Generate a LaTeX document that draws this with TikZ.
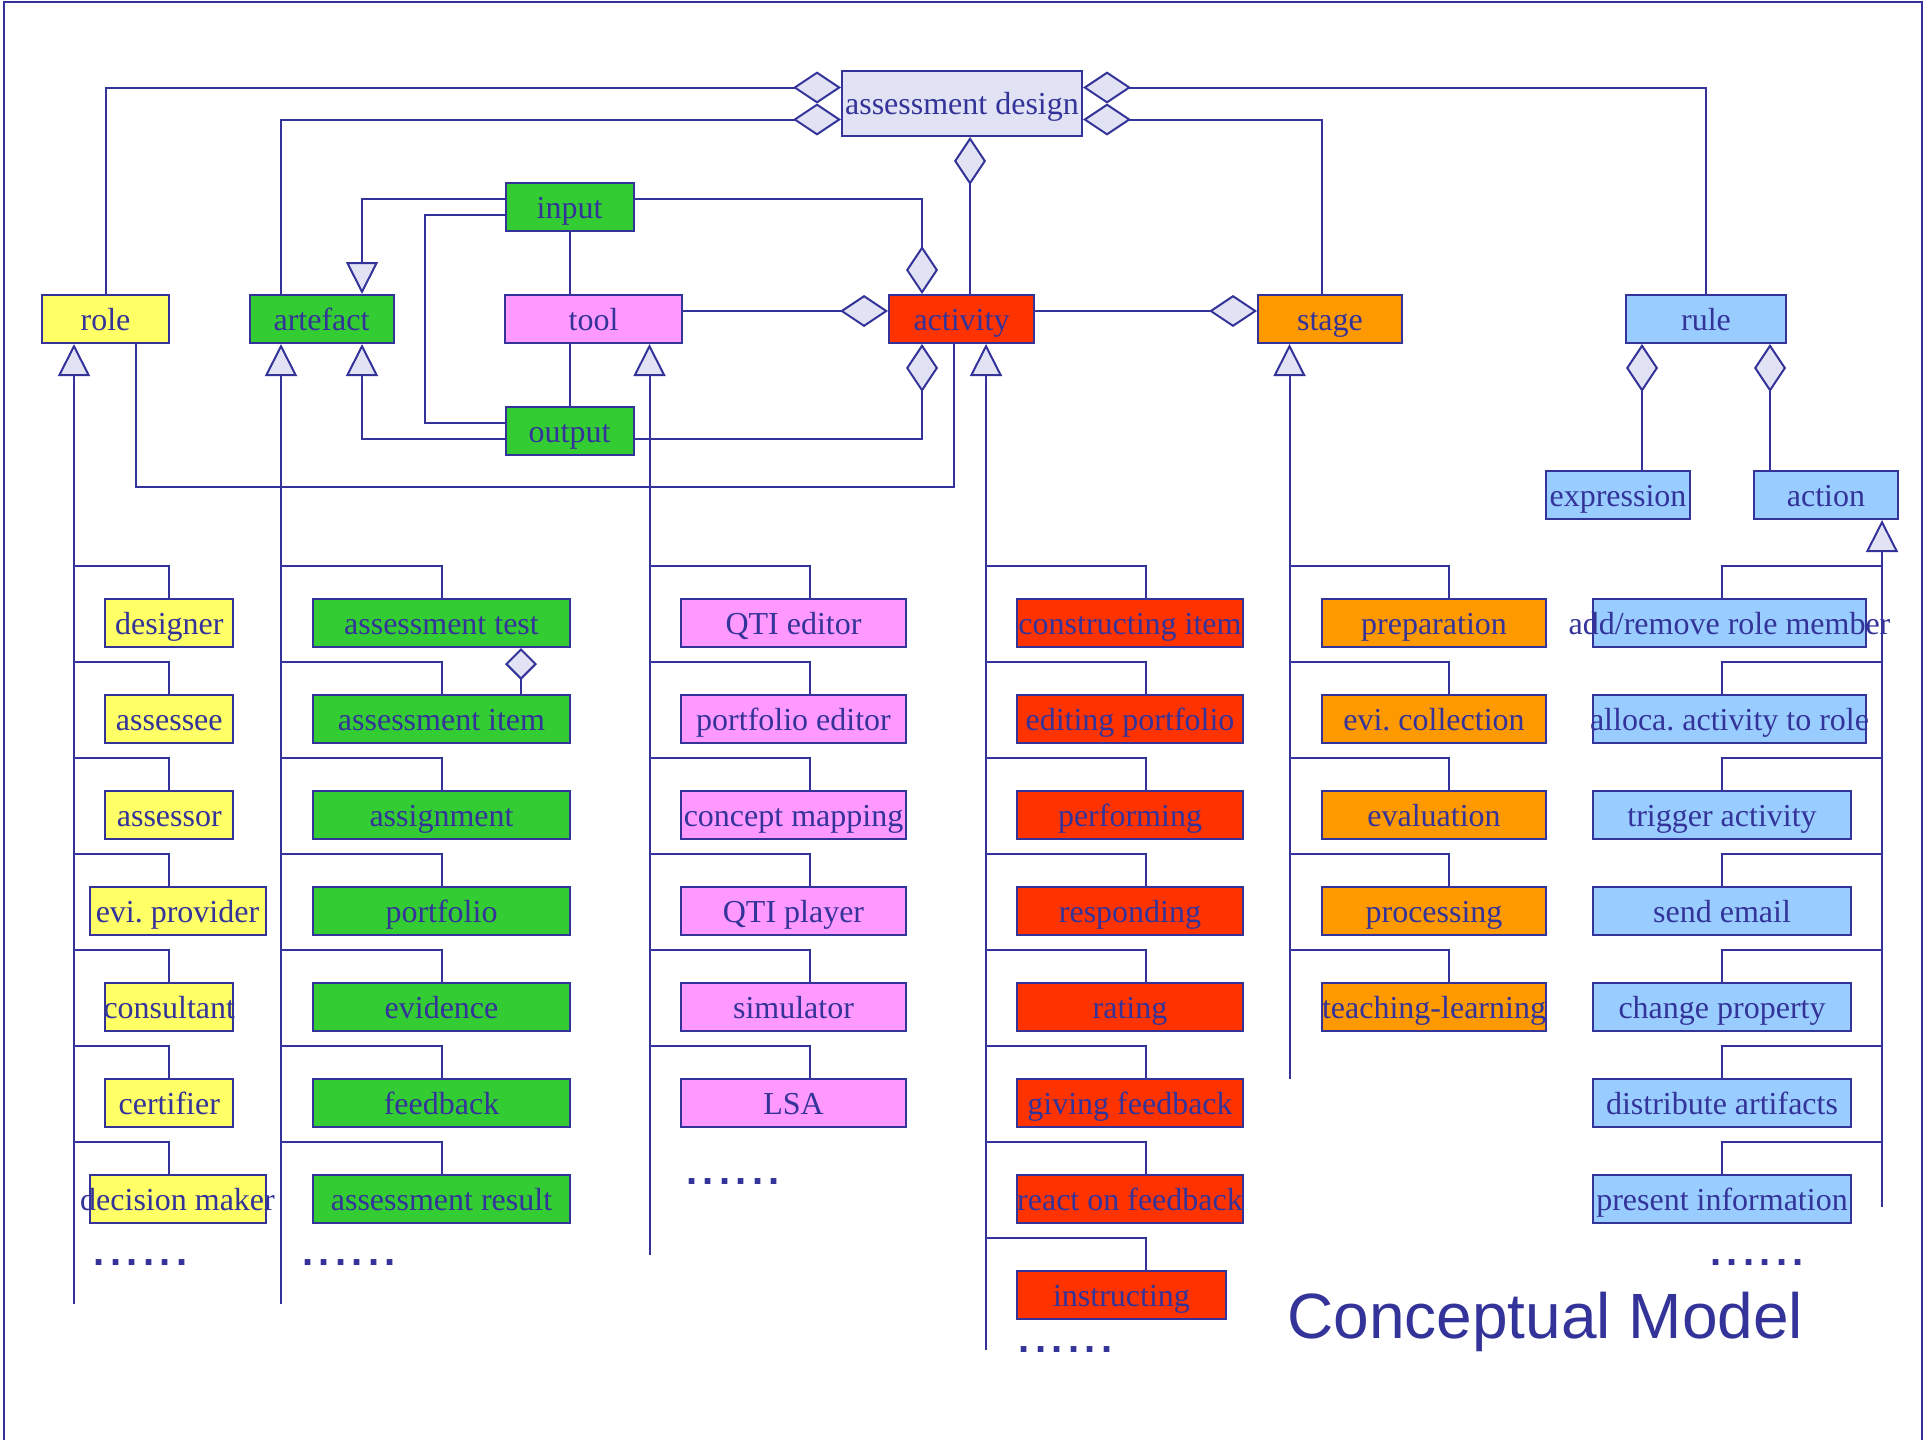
\documentclass[tikz,border=0pt]{standalone}
\usepackage{fontspec}
\setmainfont{Liberation Serif}
\newfontfamily\titlefont{Liberation Sans}
\usepackage{xcolor}
\usepackage{tikz}
\usetikzlibrary{arrows.meta}
\usetikzlibrary{calc}
\frenchspacing

\definecolor{navy}{HTML}{333399}
\definecolor{lav}{HTML}{E1E3F4}
\definecolor{roleYellow}{HTML}{FFFF66}
\definecolor{artGreen}{HTML}{33CC33}
\definecolor{toolPink}{HTML}{FF99FF}
\definecolor{actRed}{HTML}{FF3300}
\definecolor{stageOrange}{HTML}{FF9900}
\definecolor{ruleBlue}{HTML}{99CCFF}

\newsavebox{\lblbox}
\newcommand\moredots{.\kern2.7pt.\kern2.7pt.\kern2.7pt.\kern2.7pt.\kern2.7pt.}
\tikzset{
	box/.style={draw=navy, line width=1pt, inner sep=0pt, minimum height=24pt, text=navy,
		font=\fontsize{16}{19}\selectfont, text height=15pt, text depth=3.6pt,
		execute at begin node={\setbox\lblbox\hbox\bgroup},
		execute at end node={\egroup\hbox to 0pt{\hss\usebox{\lblbox}\hss}}},
	designbox/.style={box, fill=lav},
	rolebox/.style={box, fill=roleYellow},
	artbox/.style={box, fill=artGreen},
	toolbox/.style={box, fill=toolPink},
	actbox/.style={box, fill=actRed},
	stagebox/.style={box, fill=stageOrange},
	rulebox/.style={box, fill=ruleBlue},
	link/.style={draw=navy, line width=1pt},
	isa/.style={link, -{Triangle[width=16pt, length=16pt, fill=lav]}},
	partof/.style={link, -{Diamond[width=16pt, length=24pt, fill=lav]}},
	wholeof/.style={link, {Diamond[width=16pt, length=24pt, fill=lav]}-},
	smallwhole/.style={link, {Diamond[width=16pt, length=16pt, fill=lav]}-},
	more/.style={text=navy, font=\titlefont\bfseries\fontsize{20}{22}\selectfont, inner sep=0pt, anchor=base,
		text height=3pt, text depth=0pt}
}

\begin{document}
\begin{tikzpicture}[x=0.5pt, y=-0.5pt]
	\useasboundingbox (0,0) rectangle (1925,1440);
	\draw[navy, line width=0.75pt] (4,1440) -- (4,2) -- (1922,2) -- (1922,1440);

	\coordinate (roleTrunk)  at (74,1304);
	\coordinate (artTrunk)   at (281,1304);
	\coordinate (toolTrunk)  at (649.5,1255);
	\coordinate (actTrunk)   at (986,1350);
	\coordinate (stageTrunk) at (1289.5,1079);
	\coordinate (ruleTrunk)  at (1882,1207);
	\coordinate (roleDrop)  at (169,0);
	\coordinate (artDrop)   at (442,0);
	\coordinate (toolDrop)  at (810,0);
	\coordinate (actDrop)   at (1146,0);
	\coordinate (stageDrop) at (1449,0);
	\coordinate (ruleDrop)  at (1722,0);
	\coordinate (artLink)    at (362,0);
	\coordinate (stageLink)  at (1322,0);
	\coordinate (aggLink)    at (970,0);
	\coordinate (ioLink)     at (922,0);
	\coordinate (roleLink)   at (136,487);
	\coordinate (actLink)    at (954,487);
	\coordinate (exprLink)   at (1642,0);
	\coordinate (actionLink) at (1770,0);
	\coordinate (itemLink)   at (521,0);

	\node[designbox, minimum width=120pt, minimum height=32.5pt] (design) at (962,103.5) {assessment design};
	\node[rolebox,  minimum width=63.5pt] (role)       at (105.5,319) {role};
	\node[artbox,   minimum width=72pt]   (artefact)   at (321.5,319) {artefact};
	\node[toolbox,  minimum width=88.5pt] (tool)       at (593.5,319) {tool};
	\node[actbox,   minimum width=72.5pt] (activity)   at (961.5,319) {activity};
	\node[stagebox, minimum width=72pt]   (stage)      at (1330,319)  {stage};
	\node[rulebox,  minimum width=80pt]   (rule)       at (1706,319)  {rule};
	\node[artbox,   minimum width=64pt]   (input)      at (569.5,207) {input};
	\node[artbox,   minimum width=64pt]   (output)     at (569.5,431) {output};
	\node[rulebox,  minimum width=72pt]   (expression) at (1618,495)  {expression};
	\node[rulebox,  minimum width=72pt]   (action)     at (1826,495)  {action};

	\node[rolebox, minimum width=64pt] (designer)      at (169.3,623)  {designer};
	\node[rolebox, minimum width=64pt] (assessee)      at (169.3,719)  {assessee};
	\node[rolebox, minimum width=64pt] (assessor)      at (169.3,815)  {assessor};
	\node[rolebox, minimum width=88pt] (eviProvider)   at (177.5,911)  {evi. provider};
	\node[rolebox, minimum width=64pt] (consultant)    at (169.3,1007) {consultant};
	\node[rolebox, minimum width=64pt] (certifier)     at (169.3,1103) {certifier};
	\node[rolebox, minimum width=88pt] (decisionMaker) at (177.5,1199) {decision maker};

	\node[artbox, minimum width=128.5pt] (assessTest)   at (441.5,623)  {assessment test};
	\node[artbox, minimum width=128.5pt] (assessItem)   at (441.5,719)  {assessment item};
	\node[artbox, minimum width=128.5pt] (assignment)   at (441.5,815)  {assignment};
	\node[artbox, minimum width=128.5pt] (portfolio)    at (441.5,911)  {portfolio};
	\node[artbox, minimum width=128.5pt] (evidence)     at (441.5,1007) {evidence};
	\node[artbox, minimum width=128.5pt] (feedback)     at (441.5,1103) {feedback};
	\node[artbox, minimum width=128.5pt] (assessResult) at (441.5,1199) {assessment result};

	\node[toolbox, minimum width=112.5pt] (qtiEditor)       at (793.5,623)  {QTI editor};
	\node[toolbox, minimum width=112.5pt] (portfolioEditor) at (793.5,719)  {portfolio editor};
	\node[toolbox, minimum width=112.5pt] (conceptMapping)  at (793.5,815)  {concept mapping};
	\node[toolbox, minimum width=112.5pt] (qtiPlayer)       at (793.5,911)  {QTI player};
	\node[toolbox, minimum width=112.5pt] (simulator)       at (793.5,1007) {simulator};
	\node[toolbox, minimum width=112.5pt] (lsa)             at (793.5,1103) {LSA};

	\node[actbox, minimum width=113pt]   (constructingItem) at (1130,623)    {constructing item};
	\node[actbox, minimum width=113pt]   (editingPortfolio) at (1130,719)    {editing portfolio};
	\node[actbox, minimum width=113pt]   (performing)       at (1130,815)    {performing};
	\node[actbox, minimum width=113pt]   (responding)       at (1130,911)    {responding};
	\node[actbox, minimum width=113pt]   (rating)           at (1130,1007)   {rating};
	\node[actbox, minimum width=113pt]   (givingFeedback)   at (1130,1103)   {giving feedback};
	\node[actbox, minimum width=113pt]   (reactFeedback)    at (1130,1199)   {react on feedback};
	\node[actbox, minimum width=104.5pt] (instructing)      at (1121.5,1295) {instructing};

	\node[stagebox, minimum width=112pt] (preparation)      at (1434,623)  {preparation};
	\node[stagebox, minimum width=112pt] (eviCollection)    at (1434,719)  {evi. collection};
	\node[stagebox, minimum width=112pt] (evaluation)       at (1434,815)  {evaluation};
	\node[stagebox, minimum width=112pt] (processing)       at (1434,911)  {processing};
	\node[stagebox, minimum width=112pt] (teachingLearning) at (1434,1007) {teaching-learning};

	\node[rulebox, minimum width=136.5pt] (addRemove)           at (1729.5,623) {add/remove role member};
	\node[rulebox, minimum width=136.5pt] (allocActivity)       at (1729.5,719) {alloca. activity to role};
	\node[rulebox, minimum width=129pt]   (triggerActivity)     at (1722,815)   {trigger activity};
	\node[rulebox, minimum width=129pt]   (sendEmail)           at (1722,911)   {send email};
	\node[rulebox, minimum width=129pt]   (changeProperty)      at (1722,1007)  {change property};
	\node[rulebox, minimum width=129pt]   (distributeArtifacts) at (1722,1103)  {distribute artifacts};
	\node[rulebox, minimum width=129pt]   (presentInformation)  at (1722,1199)  {present information};

	\node[more] (roleMore)  at (140.5,1265)  {\moredots};
	\node[more] (artMore)   at (349,1265)    {\moredots};
	\node[more] (toolMore)  at (733,1184)    {\moredots};
	\node[more] (actMore)   at (1065.5,1352) {\moredots};
	\node[more] (ruleMore)  at (1757,1265)   {\moredots};
	\node[anchor=base west, inner sep=0pt, text=navy, font=\titlefont\fontsize{32}{38}\selectfont] (title) at (1287,1338) {Conceptual Model};

	\draw[wholeof] ([yshift=8pt]design.west) -| (role.north);
	\draw[wholeof] ([yshift=-8pt]design.west) -| (artefact.north -| artTrunk);
	\draw[wholeof] ([yshift=8pt]design.east) -| (rule.north);
	\draw[wholeof] ([yshift=-8pt]design.east) -| (stage.north -| stageLink);
	\draw[wholeof] (design.south -| aggLink) -- (activity.north -| aggLink);
	\draw[isa] ([yshift=4pt]input.west) -| (artefact.north -| artLink);
	\draw[link] ([yshift=-4pt]input.west) -- ++(-80,0) |- ([yshift=4pt]output.west);
	\draw[isa] ([yshift=-4pt]output.west) -| (artefact.south -| artLink);
	\draw[partof] ([yshift=4pt]input.east) -| (activity.north -| ioLink);
	\draw[partof] ([yshift=-4pt]output.east) -| (activity.south -| ioLink);
	\draw[link] (input.south) -- (input.south |- tool.north);
	\draw[link] (output.north |- tool.south) -- (output.north);
	\draw[partof] ([yshift=4pt]tool.east) -- ([yshift=4pt]activity.west);
	\draw[partof] ([yshift=4pt]activity.east) -- ([yshift=4pt]stage.west);
	\draw[link] (role.south -| roleLink) -- (roleLink) -| (activity.south -| actLink);
	\draw[wholeof] (rule.south -| exprLink) -- (expression.north -| exprLink);
	\draw[wholeof] (rule.south -| actionLink) -- (action.north -| actionLink);
	\draw[smallwhole] (assessTest.south -| itemLink) -- (assessItem.north -| itemLink);

	\draw[isa] (roleTrunk) -- (roleTrunk |- role.south);
	\draw[isa] (artTrunk) -- (artTrunk |- artefact.south);
	\draw[isa] (toolTrunk) -- (toolTrunk |- tool.south);
	\draw[isa] (actTrunk) -- (actTrunk |- activity.south);
	\draw[isa] (stageTrunk) -- (stageTrunk |- stage.south);
	\draw[isa] (ruleTrunk) -- (ruleTrunk |- action.south);

	\draw[link] (roleTrunk |- designer.north) ++(0,-32) -| (designer.north -| roleDrop);
	\draw[link] (roleTrunk |- assessee.north) ++(0,-32) -| (assessee.north -| roleDrop);
	\draw[link] (roleTrunk |- assessor.north) ++(0,-32) -| (assessor.north -| roleDrop);
	\draw[link] (roleTrunk |- eviProvider.north) ++(0,-32) -| (eviProvider.north -| roleDrop);
	\draw[link] (roleTrunk |- consultant.north) ++(0,-32) -| (consultant.north -| roleDrop);
	\draw[link] (roleTrunk |- certifier.north) ++(0,-32) -| (certifier.north -| roleDrop);
	\draw[link] (roleTrunk |- decisionMaker.north) ++(0,-32) -| (decisionMaker.north -| roleDrop);

	\draw[link] (artTrunk |- assessTest.north) ++(0,-32) -| (assessTest.north -| artDrop);
	\draw[link] (artTrunk |- assessItem.north) ++(0,-32) -| (assessItem.north -| artDrop);
	\draw[link] (artTrunk |- assignment.north) ++(0,-32) -| (assignment.north -| artDrop);
	\draw[link] (artTrunk |- portfolio.north) ++(0,-32) -| (portfolio.north -| artDrop);
	\draw[link] (artTrunk |- evidence.north) ++(0,-32) -| (evidence.north -| artDrop);
	\draw[link] (artTrunk |- feedback.north) ++(0,-32) -| (feedback.north -| artDrop);
	\draw[link] (artTrunk |- assessResult.north) ++(0,-32) -| (assessResult.north -| artDrop);

	\draw[link] (toolTrunk |- qtiEditor.north) ++(0,-32) -| (qtiEditor.north -| toolDrop);
	\draw[link] (toolTrunk |- portfolioEditor.north) ++(0,-32) -| (portfolioEditor.north -| toolDrop);
	\draw[link] (toolTrunk |- conceptMapping.north) ++(0,-32) -| (conceptMapping.north -| toolDrop);
	\draw[link] (toolTrunk |- qtiPlayer.north) ++(0,-32) -| (qtiPlayer.north -| toolDrop);
	\draw[link] (toolTrunk |- simulator.north) ++(0,-32) -| (simulator.north -| toolDrop);
	\draw[link] (toolTrunk |- lsa.north) ++(0,-32) -| (lsa.north -| toolDrop);

	\draw[link] (actTrunk |- constructingItem.north) ++(0,-32) -| (constructingItem.north -| actDrop);
	\draw[link] (actTrunk |- editingPortfolio.north) ++(0,-32) -| (editingPortfolio.north -| actDrop);
	\draw[link] (actTrunk |- performing.north) ++(0,-32) -| (performing.north -| actDrop);
	\draw[link] (actTrunk |- responding.north) ++(0,-32) -| (responding.north -| actDrop);
	\draw[link] (actTrunk |- rating.north) ++(0,-32) -| (rating.north -| actDrop);
	\draw[link] (actTrunk |- givingFeedback.north) ++(0,-32) -| (givingFeedback.north -| actDrop);
	\draw[link] (actTrunk |- reactFeedback.north) ++(0,-32) -| (reactFeedback.north -| actDrop);
	\draw[link] (actTrunk |- instructing.north) ++(0,-32) -| (instructing.north -| actDrop);

	\draw[link] (stageTrunk |- preparation.north) ++(0,-32) -| (preparation.north -| stageDrop);
	\draw[link] (stageTrunk |- eviCollection.north) ++(0,-32) -| (eviCollection.north -| stageDrop);
	\draw[link] (stageTrunk |- evaluation.north) ++(0,-32) -| (evaluation.north -| stageDrop);
	\draw[link] (stageTrunk |- processing.north) ++(0,-32) -| (processing.north -| stageDrop);
	\draw[link] (stageTrunk |- teachingLearning.north) ++(0,-32) -| (teachingLearning.north -| stageDrop);

	\draw[link] (ruleTrunk |- addRemove.north) ++(0,-32) -| (addRemove.north -| ruleDrop);
	\draw[link] (ruleTrunk |- allocActivity.north) ++(0,-32) -| (allocActivity.north -| ruleDrop);
	\draw[link] (ruleTrunk |- triggerActivity.north) ++(0,-32) -| (triggerActivity.north -| ruleDrop);
	\draw[link] (ruleTrunk |- sendEmail.north) ++(0,-32) -| (sendEmail.north -| ruleDrop);
	\draw[link] (ruleTrunk |- changeProperty.north) ++(0,-32) -| (changeProperty.north -| ruleDrop);
	\draw[link] (ruleTrunk |- distributeArtifacts.north) ++(0,-32) -| (distributeArtifacts.north -| ruleDrop);
	\draw[link] (ruleTrunk |- presentInformation.north) ++(0,-32) -| (presentInformation.north -| ruleDrop);
\end{tikzpicture}
\end{document}
